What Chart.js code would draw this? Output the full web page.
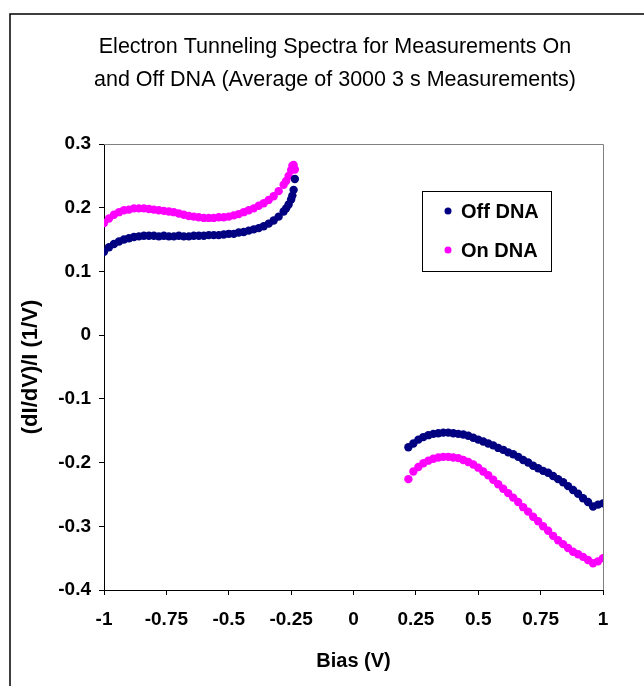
<!DOCTYPE html>
<html>
<head>
<meta charset="utf-8">
<script src="https://cdn.jsdelivr.net/npm/chart.js@4"></script>
<style>
  body { margin: 0; background: #fff; }
  .chart-box { width: 644px; height: 686px; }
</style>
</head>
<body>
<div class="chart-box"><canvas id="spectraChart"></canvas></div>
<script>
const titleLines = [
  "Electron Tunneling Spectra for Measurements On",
  "and Off DNA (Average of 3000 3 s Measurements)",
];
const seriesNames = ["Off DNA", "On DNA"];
const xTickLabels = ["-1", "-0.75", "-0.5", "-0.25", "0", "0.25", "0.5", "0.75", "1"];
const yTickLabels = ["-0.4", "-0.3", "-0.2", "-0.1", "0", "0.1", "0.2", "0.3"];

// bias values (V)
const biasLeft = [
  -1.0, -0.98, -0.96, -0.94, -0.92, -0.9, -0.88, -0.86, -0.84, -0.82,
  -0.8, -0.78, -0.76, -0.74, -0.72, -0.7, -0.68, -0.66, -0.64, -0.62,
  -0.6, -0.58, -0.56, -0.54, -0.52, -0.5, -0.48, -0.46, -0.44, -0.42,
  -0.4, -0.38, -0.36, -0.34, -0.32, -0.3, -0.28, -0.27, -0.26, -0.25, -0.245, -0.24, -0.235,
];
const biasRight = [
  0.22, 0.24, 0.26, 0.28, 0.3, 0.32, 0.34, 0.36, 0.38, 0.4,
  0.42, 0.44, 0.46, 0.48, 0.5, 0.52, 0.54, 0.56, 0.58, 0.6,
  0.62, 0.64, 0.66, 0.68, 0.7, 0.72, 0.74, 0.76, 0.78, 0.8,
  0.82, 0.84, 0.86, 0.88, 0.9, 0.92, 0.94, 0.96, 0.98, 1.0,
];

// (dI/dV)/I values
const offLeft = [
  0.131, 0.138, 0.143, 0.147, 0.15, 0.152, 0.154, 0.155, 0.156, 0.156,
  0.156, 0.155, 0.156, 0.155, 0.155, 0.156, 0.155, 0.155, 0.156, 0.156,
  0.156, 0.157, 0.157, 0.157, 0.158, 0.159, 0.159, 0.161, 0.162, 0.164,
  0.166, 0.168, 0.171, 0.175, 0.18, 0.186, 0.194, 0.199, 0.205, 0.213, 0.219, 0.228, 0.245,
];
const offRight = [
  -0.176, -0.17, -0.164, -0.16, -0.157, -0.155, -0.154, -0.153, -0.153, -0.154,
  -0.155, -0.156, -0.158, -0.161, -0.164, -0.167, -0.17, -0.173, -0.177, -0.18,
  -0.184, -0.187, -0.191, -0.196, -0.2, -0.205, -0.209, -0.213, -0.216, -0.221,
  -0.226, -0.231, -0.237, -0.243, -0.249, -0.256, -0.262, -0.269, -0.266, -0.264,
];
const onLeft = [
  0.176, 0.183, 0.189, 0.193, 0.196, 0.197, 0.199, 0.199, 0.199, 0.198,
  0.197, 0.196, 0.195, 0.194, 0.193, 0.191, 0.189, 0.187, 0.186, 0.185,
  0.184, 0.184, 0.184, 0.185, 0.185, 0.186, 0.188, 0.19, 0.193, 0.196,
  0.199, 0.203, 0.207, 0.212, 0.218, 0.226, 0.236, 0.242, 0.25, 0.259, 0.266, 0.267, 0.26,
];
const onRight = [
  -0.226, -0.214, -0.207, -0.201, -0.197, -0.194, -0.192, -0.191, -0.191, -0.192,
  -0.193, -0.196, -0.199, -0.203, -0.208, -0.214, -0.22, -0.227, -0.234, -0.241,
  -0.248, -0.255, -0.262, -0.27, -0.277, -0.285, -0.292, -0.3, -0.307, -0.315,
  -0.322, -0.328, -0.334, -0.34, -0.344, -0.348, -0.353, -0.358, -0.355, -0.35,
];

const offColor = "#000080";
const onColor = "#ff00ff";
const fontFamily = "'Liberation Sans', Arial, sans-serif";

function toPoints(xs, ys) {
  return xs.map((x, i) => ({ x: x, y: ys[i] }));
}

// outer frame, title, grey plot border on top/right, and legend box inside the plot
const decorations = {
  id: "decorations",
  beforeDraw(chart) {
    const ctx = chart.ctx;
    ctx.save();
    ctx.strokeStyle = "#000";
    ctx.lineWidth = 1.5;
    ctx.beginPath();
    ctx.moveTo(10, 686);
    ctx.lineTo(10, 14);
    ctx.lineTo(644, 14);
    ctx.stroke();

    ctx.fillStyle = "#000";
    ctx.font = "21.5px " + fontFamily;
    ctx.textAlign = "center";
    ctx.textBaseline = "middle";
    titleLines.forEach((line, i) => {
      ctx.fillText(line, 335, 47 + i * 33);
    });
    ctx.restore();
  },
  afterDatasetsDraw(chart) {
    const ctx = chart.ctx;
    const area = chart.chartArea;
    ctx.save();
    ctx.strokeStyle = "#808080";
    ctx.lineWidth = 1;
    ctx.beginPath();
    ctx.moveTo(Math.round(area.left), Math.round(area.top) + 0.5);
    ctx.lineTo(Math.round(area.right) + 0.5, Math.round(area.top) + 0.5);
    ctx.lineTo(Math.round(area.right) + 0.5, Math.round(area.bottom));
    ctx.stroke();

    // legend
    ctx.fillStyle = "#fff";
    ctx.fillRect(422, 191, 129, 80);
    ctx.strokeStyle = "#000";
    ctx.strokeRect(422.5, 191.5, 129, 80);
    ctx.font = "bold 20px " + fontFamily;
    ctx.textBaseline = "middle";
    ctx.textAlign = "left";
    chart.data.datasets.forEach((ds, i) => {
      const y = 211 + i * 39;
      ctx.fillStyle = ds.backgroundColor;
      ctx.beginPath();
      ctx.arc(448, y, 3.5, 0, Math.PI * 2);
      ctx.fill();
      ctx.fillStyle = "#000";
      ctx.fillText(ds.label, 461, y + 1);
    });
    ctx.restore();
  },
};

new Chart(document.querySelector("#spectraChart"), {
  type: "scatter",
  data: {
    datasets: [
      {
        label: seriesNames[0],
        data: toPoints(biasLeft, offLeft).concat(toPoints(biasRight, offRight)),
        backgroundColor: offColor,
        pointRadius: 4.2,
        pointBorderWidth: 0,
      },
      {
        label: seriesNames[1],
        data: toPoints(biasLeft, onLeft).concat(toPoints(biasRight, onRight)),
        backgroundColor: onColor,
        pointRadius: 4.2,
        pointBorderWidth: 0,
      },
    ],
  },
  options: {
    responsive: true,
    maintainAspectRatio: false,
    animation: false,
    layout: { padding: { top: 144, right: 41, bottom: 0, left: 0 } },
    plugins: {
      legend: { display: false },
      tooltip: { enabled: false },
      title: { display: false },
    },
    scales: {
      x: {
        type: "linear",
        min: -1,
        max: 1,
        afterFit: (scale) => { scale.height = 96; },
        ticks: {
          stepSize: 0.25,
          color: "#000",
          padding: 13,
          maxRotation: 0,
          font: { family: fontFamily, size: 19, weight: "bold" },
          callback: (value, index) => xTickLabels[index],
        },
        grid: { drawOnChartArea: false, drawTicks: true, tickLength: 5, color: "#000" },
        border: { color: "#000", width: 1 },
        title: {
          display: true,
          text: "Bias (V)",
          color: "#000",
          font: { family: fontFamily, size: 20, weight: "bold" },
          padding: { top: 0, bottom: 13 },
        },
      },
      y: {
        type: "linear",
        min: -0.4,
        max: 0.3,
        afterFit: (scale) => { scale.width = 104; },
        ticks: {
          stepSize: 0.1,
          color: "#000",
          padding: 8,
          font: { family: fontFamily, size: 19, weight: "bold" },
          callback: (value, index) => yTickLabels[index],
        },
        grid: { drawOnChartArea: false, drawTicks: true, tickLength: 5, color: "#000" },
        border: { color: "#000", width: 1 },
        title: {
          display: true,
          text: "(dI/dV)/I (1/V)",
          color: "#000",
          font: { family: fontFamily, size: 22, weight: "bold" },
          padding: { top: 18, bottom: 0 },
        },
      },
    },
  },
  plugins: [decorations],
});
</script>
</body>
</html>
